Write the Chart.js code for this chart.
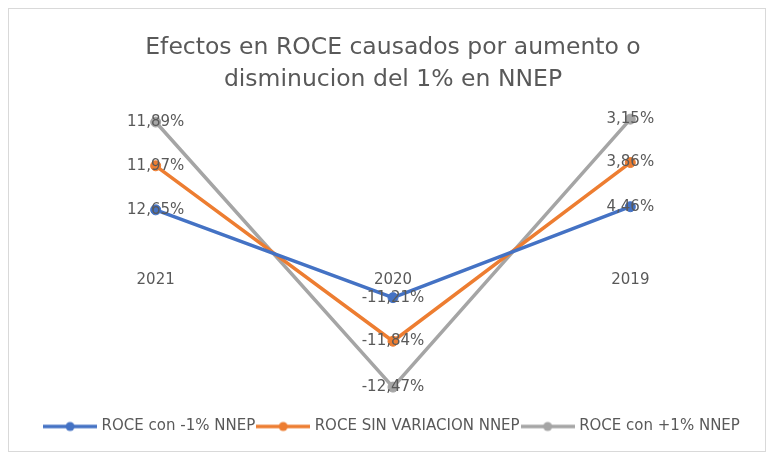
<!DOCTYPE html>
<html><head><meta charset="utf-8">
<script src="https://cdn.jsdelivr.net/npm/chart.js@4/dist/chart.umd.min.js"></script>
<style>html,body{margin:0;padding:0;background:#fff}</style>
</head><body>
<canvas id="c" width="767" height="453"></canvas>
<script>
const categories = ['2021', '2020', '2019'];
const seriesNames = ['ROCE con -1% NNEP', 'ROCE SIN VARIACION NNEP', 'ROCE con +1% NNEP'];
const roceMenos1 = [12.65, -11.21, 13.5];
const roceSinVariacion = [11.97, -11.84, 12.0];
const roceMas1 = [11.89, -12.47, 11.8];
const labelsMenos1 = ['12,65%', '-11,21%', '4,46%'];
const labelsSinVariacion = ['11,97%', '-11,84%', '3,86%'];
const labelsMas1 = ['11,89%', '-12,47%', '3,15%'];
const titleLines = ['Efectos en ROCE causados por aumento o', 'disminucion del 1% en NNEP'];

const colors = ['#4472C4', '#ED7D31', '#A5A5A5'];
const textColor = '#595959';
const smallFont = {family: 'DejaVu Sans', size: 15};

function legendIcon(color) {
  const cv = document.createElement('canvas');
  cv.width = 54; cv.height = 12;
  const g = cv.getContext('2d');
  g.strokeStyle = color; g.lineWidth = 3.5;
  g.beginPath(); g.moveTo(0, 6); g.lineTo(54, 6); g.stroke();
  g.fillStyle = color;
  g.beginPath(); g.arc(27, 6, 4.5, 0, Math.PI * 2); g.fill();
  return cv;
}

const frame = {
  id: 'frame',
  beforeDraw(chart) {
    const ctx = chart.ctx;
    ctx.save();
    ctx.fillStyle = '#ffffff';
    ctx.fillRect(0, 0, chart.width, chart.height);
    ctx.strokeStyle = '#D9D9D9';
    ctx.lineWidth = 1;
    ctx.strokeRect(8.5, 8.5, 757, 443);
    ctx.restore();
  }
};

const dataLabels = {
  id: 'dataLabels',
  afterDatasetsDraw(chart) {
    const ctx = chart.ctx;
    ctx.save();
    ctx.font = '15px "DejaVu Sans"';
    ctx.fillStyle = textColor;
    ctx.textAlign = 'center';
    ctx.textBaseline = 'middle';
    chart.data.datasets.forEach((ds, i) => {
      const meta = chart.getDatasetMeta(i);
      meta.data.forEach((pt, j) => {
        ctx.fillText(ds.pointLabels[j], pt.x, pt.y);
      });
    });
    ctx.restore();
  }
};

const seriesData = [roceMenos1, roceSinVariacion, roceMas1];
const seriesLabels = [labelsMenos1, labelsSinVariacion, labelsMas1];

new Chart(document.getElementById('c'), {
  type: 'line',
  data: {
    labels: categories,
    datasets: seriesNames.map((name, i) => ({
      label: name,
      data: seriesData[i],
      pointLabels: seriesLabels[i],
      borderColor: colors[i],
      backgroundColor: colors[i],
      borderWidth: 3.5,
      pointRadius: 5,
      pointBorderWidth: 1,
      pointBackgroundColor: colors[i],
      pointBorderColor: colors[i],
      tension: 0,
      fill: false
    }))
  },
  options: {
    responsive: false,
    animation: false,
    layout: {padding: {left: 37, right: 18, top: 0, bottom: 9}},
    plugins: {
      tooltip: {enabled: false},
      title: {
        display: true,
        text: titleLines,
        color: textColor,
        font: {family: 'DejaVu Sans', size: 23.5, weight: 'normal', lineHeight: 1.4},
        padding: {top: 31, bottom: 10}
      },
      legend: {
        position: 'bottom',
        labels: {
          usePointStyle: true,
          pointStyleWidth: 48,
          padding: 4,
          color: textColor,
          font: smallFont,
          generateLabels(chart) {
            return chart.data.datasets.map((ds, i) => ({
              text: ds.label,
              pointStyle: legendIcon(colors[i]),
              fillStyle: colors[i],
              strokeStyle: colors[i],
              lineWidth: 0,
              fontColor: textColor,
              hidden: false,
              datasetIndex: i
            }));
          }
        }
      }
    },
    scales: {
      x: {
        position: {y: 0},
        offset: true,
        grid: {display: false, drawTicks: false},
        border: {display: false},
        ticks: {color: textColor, font: smallFont, padding: 15}
      },
      y: {
        display: false,
        stacked: true,
        min: -43.1,
        max: 40.65
      }
    }
  },
  plugins: [frame, dataLabels]
});
</script>
</body></html>
